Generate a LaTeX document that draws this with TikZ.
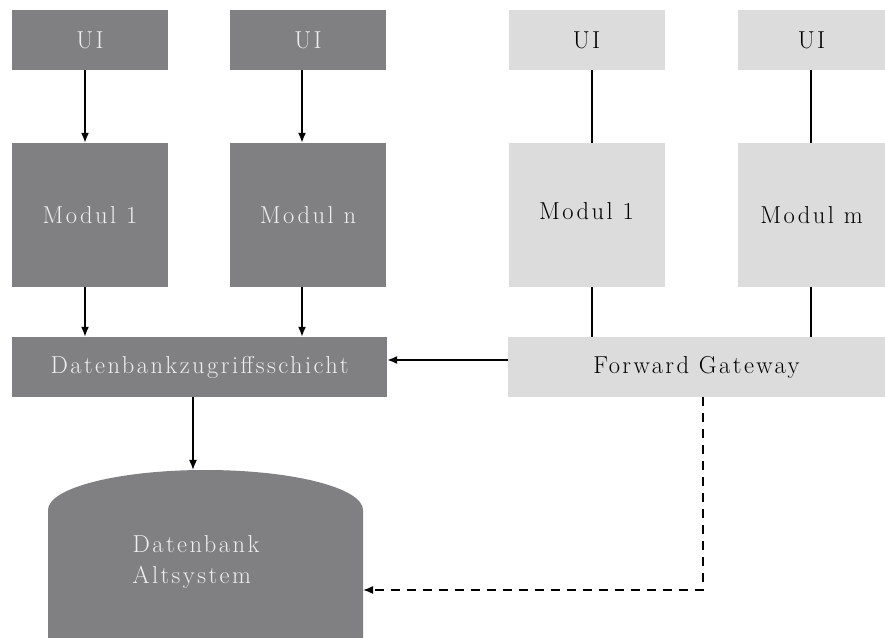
\documentclass[tikz,border=0pt]{standalone}
\usepackage{fontspec}
\setmainfont{Latin Modern Roman}[LetterSpace=10]
\usetikzlibrary{arrows.meta}
\definecolor{dkgray}{RGB}{128,128,130}
\definecolor{ltgray}{RGB}{220,220,220}
\definecolor{dktext}{RGB}{238,238,238}
\tikzset{
  box/.style={inner sep=0pt, font=\fontsize{24.5}{29}\selectfont},
  darkbox/.style={box, fill=dkgray, text=dktext},
  lightbox/.style={box, fill=ltgray, text=black},
  uibox/.style={minimum width=156pt, minimum height=60pt},
  modbox/.style={minimum width=156pt, minimum height=144pt},
  layerbox/.style={minimum height=60pt},
  link/.style={line width=1.6pt, black},
  arr/.style={link, -{Latex[length=10pt,width=8pt]}},
  dashlink/.style={arr, dash pattern=on 9pt off 7pt}
}
\begin{document}
\begin{tikzpicture}[x=1pt,y=1pt]
\useasboundingbox (0,0) rectangle (885,637);

% upper row: user interfaces
\node[darkbox, uibox] (ui1) at (90,597) {UI};
\node[darkbox, uibox] (ui2) at (308,597) {UI};
\node[lightbox, uibox] (ui3) at (586.5,597) {UI};
\node[lightbox, uibox, minimum width=147pt] (ui4) at (811.5,597) {UI};

% modules
\node[darkbox, modbox] (m1) at (90,422) {Modul 1};
\node[darkbox, modbox] (mn) at (308,422) {Modul n};
\node[lightbox, modbox] (l1) at (586.5,422) {\raisebox{8pt}{Modul 1}};
\node[lightbox, modbox, minimum width=147pt] (lm) at (811.5,422) {\raisebox{-3pt}{Modul m}};

% access layer and gateway
\node[darkbox, layerbox, minimum width=375pt] (dal) at (199.5,270) {\raisebox{4pt}{Datenbankzugriffsschicht}};
\node[lightbox, layerbox, minimum width=377pt] (gw) at (696.5,270) {\raisebox{3pt}{Forward Gateway}};

% legacy database cylinder
\fill[dkgray] (48,-20) -- (48,127)
  arc[start angle=180, end angle=0, x radius=157.5, y radius=40]
  -- (363,-20) -- cycle;
\node[box, text=dktext, align=left] (db) at (196,75) {Datenbank\\[2pt]Altsystem};
\coordinate (dbtop) at (193,167);
\coordinate (dbside) at (363,47);

% connectors
\draw[arr] ([xshift=-5pt]ui1.south) -- ([xshift=-5pt]m1.north);
\draw[arr] ([xshift=-6pt]ui2.south) -- ([xshift=-6pt]mn.north);
\draw[link] ([xshift=5.5pt]ui3.south) -- ([xshift=5.5pt]l1.north);
\draw[link] ([xshift=-0.5pt]ui4.south) -- ([xshift=-0.5pt]lm.north);
\draw[arr] ([xshift=-5pt]m1.south) -- ([xshift=-5pt]m1.south |- dal.north);
\draw[arr] ([xshift=-6pt]mn.south) -- ([xshift=-6pt]mn.south |- dal.north);
\draw[link] ([xshift=5.5pt]l1.south) -- ([xshift=5.5pt]l1.south |- gw.north);
\draw[link] ([xshift=-0.5pt]lm.south) -- ([xshift=-0.5pt]lm.south |- gw.north);
\draw[arr] ([yshift=7pt]gw.west) -- ([yshift=7pt]dal.east);
\draw[arr] ([xshift=-6.5pt]dal.south) -- ([xshift=-6.5pt]dal.south |- dbtop);
\draw[dashlink] ([xshift=6.5pt]gw.south) |- (dbside);
\end{tikzpicture}
\end{document}
